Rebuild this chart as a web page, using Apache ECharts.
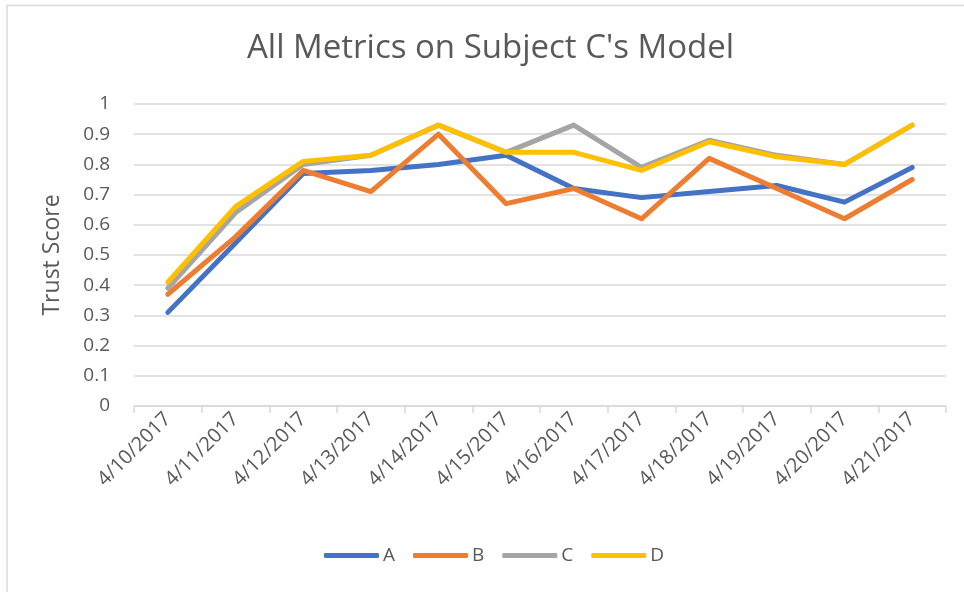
<!DOCTYPE html>
<html>
<head>
<meta charset="utf-8">
<script src="https://cdn.jsdelivr.net/npm/echarts@6/dist/echarts.min.js"></script>
<style>
html,body{margin:0;padding:0;background:#fff;}
#chart{width:964px;height:592px;}
</style>
</head>
<body>
<div id="chart"></div>
<script>
const categories = ['4/10/2017','4/11/2017','4/12/2017','4/13/2017','4/14/2017','4/15/2017','4/16/2017','4/17/2017','4/18/2017','4/19/2017','4/20/2017','4/21/2017'];
const seriesA = [0.31, 0.54, 0.77, 0.78, 0.80, 0.83, 0.72, 0.69, 0.71, 0.73, 0.675, 0.79];
const seriesB = [0.37, 0.56, 0.78, 0.71, 0.90, 0.67, 0.72, 0.62, 0.82, 0.72, 0.62, 0.75];
const seriesC = [0.39, 0.64, 0.80, 0.83, 0.93, 0.84, 0.93, 0.79, 0.88, 0.83, 0.80, 0.93];
const seriesD = [0.41, 0.66, 0.81, 0.83, 0.93, 0.84, 0.84, 0.78, 0.875, 0.825, 0.80, 0.93];
const seriesNames = ['A','B','C','D'];
const colors = ['#4472C4','#ED7D31','#A5A5A5','#FFC000'];

const font = '"Open Sans", sans-serif';
const chart = echarts.init(document.getElementById('chart'), null, {renderer:'canvas'});
const dataSets = [seriesA, seriesB, seriesC, seriesD];
chart.setOption({
  animation: false,
  backgroundColor: '#fff',
  title: {
    text: "All Metrics on Subject C's Model",
    left: 247,
    top: 32,
    padding: 0,
    textStyle: {fontFamily: font, fontSize: 33, fontWeight: 'normal', color: '#595959'}
  },
  graphic: [{
    type: 'rect', silent: true,
    shape: {x: 7, y: 5.5, width: 1200, height: 1200},
    style: {fill: 'none', stroke: '#d9d9d9', lineWidth: 1.5}
  }],
  legend: {
    data: seriesNames,
    left: 319,
    top: 541,
    icon: 'roundRect',
    itemWidth: 55,
    itemHeight: 5,
    itemGap: 18,
    textStyle: {fontFamily: font, fontSize: 19, color: '#595959', padding: [0,0,0,-1]}
  },
  grid: {left: 134, right: 18, top: 104, bottom: 186, containLabel: false},
  xAxis: {
    type: 'category',
    data: categories,
    boundaryGap: true,
    axisLine: {lineStyle: {color: '#d9d9d9', width: 1.5}},
    axisTick: {show: true, length: 7, lineStyle: {color: '#d9d9d9', width: 1.5}},
    axisLabel: {rotate: 45, margin: 10, fontFamily: font, fontSize: 20, color: '#595959', interval: 0}
  },
  yAxis: {
    type: 'value',
    min: 0, max: 1, interval: 0.1,
    name: 'Trust Score',
    nameLocation: 'middle',
    nameRotate: 90,
    nameGap: 70,
    nameTextStyle: {fontFamily: font, fontSize: 23, color: '#595959'},
    axisLine: {show: false},
    axisTick: {show: false},
    splitLine: {lineStyle: {color: '#d9d9d9', width: 1.5}},
    axisLabel: {margin: 24, fontFamily: font, fontSize: 19, color: '#595959'}
  },
  series: dataSets.map((d, i) => ({
    name: seriesNames[i],
    type: 'line',
    data: d,
    symbol: 'none',
    itemStyle: {color: colors[i]},
    lineStyle: {color: colors[i], width: 5, cap: 'round', join: 'round'}
  }))
});
</script>
</body>
</html>
